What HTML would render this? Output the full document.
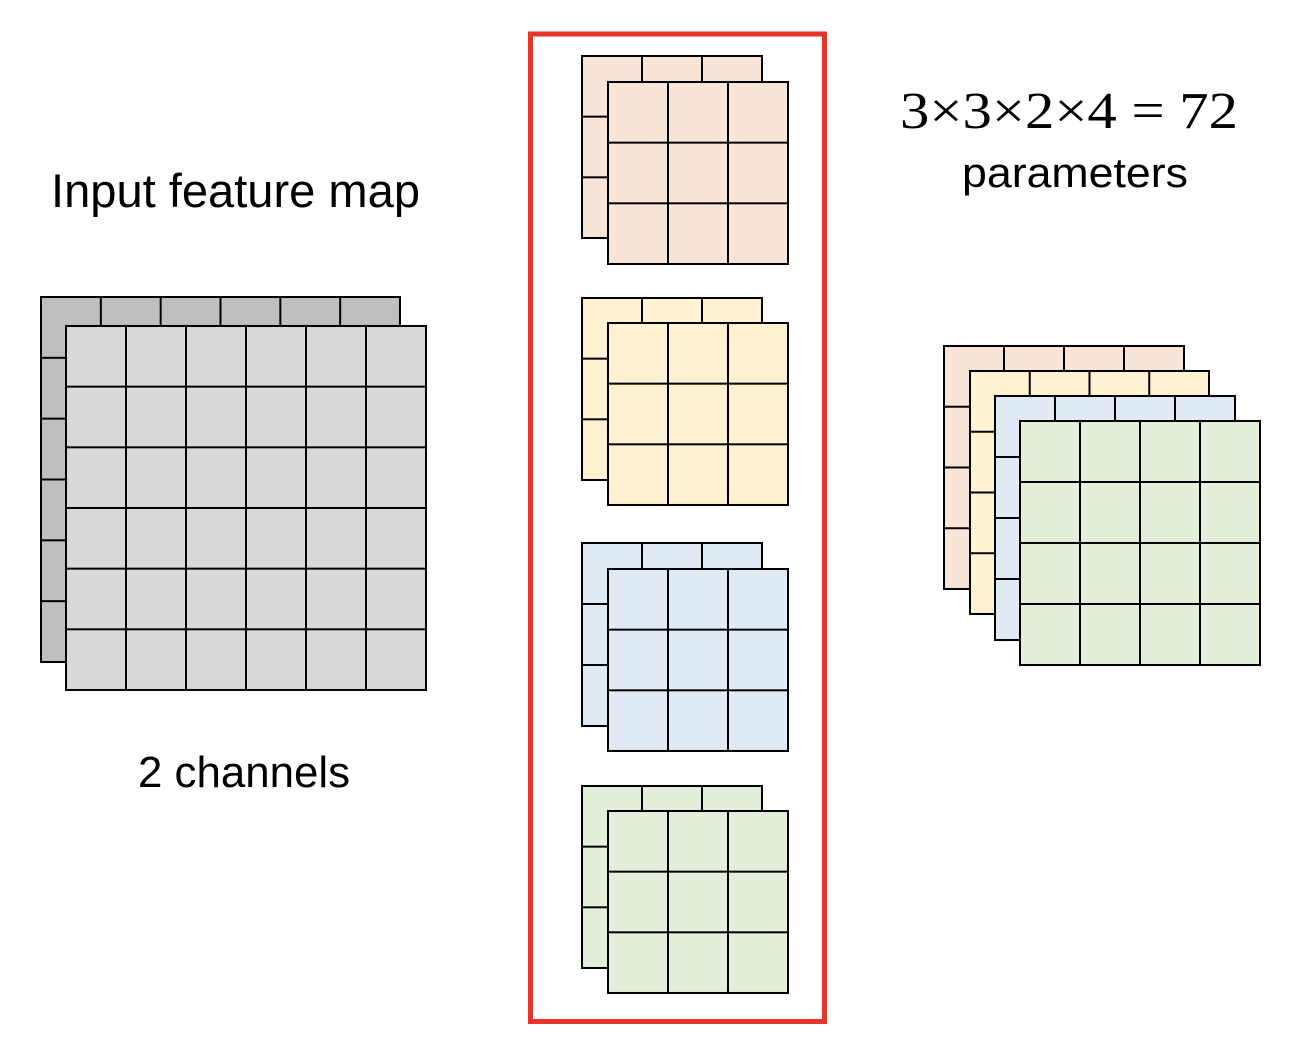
<!DOCTYPE html>
<html>
<head>
<meta charset="utf-8">
<style>
html,body{margin:0;padding:0;background:#fff;}
svg{display:block;}
</style>
</head>
<body>
<svg width="1304" height="1044" viewBox="0 0 1304 1044" xmlns="http://www.w3.org/2000/svg">
<defs>
<pattern id="g" patternUnits="userSpaceOnUse" x="-1" y="-1" width="60" height="60">
<path d="M1 0V60M0 1H60" stroke="#000" stroke-width="2" fill="none"/>
</pattern>
</defs>

<!-- Input feature map: back -->
<g transform="translate(41,297) scale(0.9972,1.0139)">
<rect width="360" height="360" fill="#BFBFBF"/>
<rect width="360" height="360" fill="url(#g)"/>
<rect width="360" height="360" fill="none" stroke="#000" stroke-width="2"/>
</g>
<!-- front -->
<g transform="translate(66,326) scale(1,1.0111)">
<rect width="360" height="360" fill="#D9D9D9"/>
<rect width="360" height="360" fill="url(#g)"/>
<rect width="360" height="360" fill="none" stroke="#000" stroke-width="2"/>
</g>

<!-- Kernels -->
<g transform="translate(582,56) scale(1,1.0111)">
<rect width="180" height="180" fill="#F8E5D8"/><rect width="180" height="180" fill="url(#g)"/><rect width="180" height="180" fill="none" stroke="#000" stroke-width="2"/>
</g>
<g transform="translate(608,82) scale(1,1.0111)">
<rect width="180" height="180" fill="#F8E5D8"/><rect width="180" height="180" fill="url(#g)"/><rect width="180" height="180" fill="none" stroke="#000" stroke-width="2"/>
</g>

<g transform="translate(582,298) scale(1,1.0111)">
<rect width="180" height="180" fill="#FEF2D0"/><rect width="180" height="180" fill="url(#g)"/><rect width="180" height="180" fill="none" stroke="#000" stroke-width="2"/>
</g>
<g transform="translate(608,323) scale(1,1.0111)">
<rect width="180" height="180" fill="#FEF2D0"/><rect width="180" height="180" fill="url(#g)"/><rect width="180" height="180" fill="none" stroke="#000" stroke-width="2"/>
</g>

<g transform="translate(582,543) scale(1,1.0167)">
<rect width="180" height="180" fill="#E0EAF5"/><rect width="180" height="180" fill="url(#g)"/><rect width="180" height="180" fill="none" stroke="#000" stroke-width="2"/>
</g>
<g transform="translate(608,569) scale(1,1.0111)">
<rect width="180" height="180" fill="#E0EAF5"/><rect width="180" height="180" fill="url(#g)"/><rect width="180" height="180" fill="none" stroke="#000" stroke-width="2"/>
</g>

<g transform="translate(582,786) scale(1,1.0111)">
<rect width="180" height="180" fill="#E3EFDA"/><rect width="180" height="180" fill="url(#g)"/><rect width="180" height="180" fill="none" stroke="#000" stroke-width="2"/>
</g>
<g transform="translate(608,811) scale(1,1.0111)">
<rect width="180" height="180" fill="#E3EFDA"/><rect width="180" height="180" fill="url(#g)"/><rect width="180" height="180" fill="none" stroke="#000" stroke-width="2"/>
</g>

<!-- Red box -->
<rect x="530.5" y="34" width="294" height="987.5" fill="none" stroke="#E8352A" stroke-width="5"/>

<!-- Output stack -->
<g transform="translate(944,346) scale(1,1.0125)">
<rect width="240" height="240" fill="#F8E5D8"/><rect width="240" height="240" fill="url(#g)"/><rect width="240" height="240" fill="none" stroke="#000" stroke-width="2"/>
</g>
<g transform="translate(970,371) scale(0.9958,1.0125)">
<rect width="240" height="240" fill="#FEF2D0"/><rect width="240" height="240" fill="url(#g)"/><rect width="240" height="240" fill="none" stroke="#000" stroke-width="2"/>
</g>
<g transform="translate(995,396) scale(1,1.0167)">
<rect width="240" height="240" fill="#E0EAF5"/><rect width="240" height="240" fill="url(#g)"/><rect width="240" height="240" fill="none" stroke="#000" stroke-width="2"/>
</g>
<g transform="translate(1020,421) scale(1,1.0167)">
<rect width="240" height="240" fill="#E3EFDA"/><rect width="240" height="240" fill="url(#g)"/><rect width="240" height="240" fill="none" stroke="#000" stroke-width="2"/>
</g>

<!-- Text -->
<text x="51" y="207" font-family="Liberation Sans, sans-serif" font-size="47" textLength="369" lengthAdjust="spacingAndGlyphs" fill="#000">Input feature map</text>
<text x="138" y="787" font-family="Liberation Sans, sans-serif" font-size="44" textLength="212" lengthAdjust="spacingAndGlyphs" fill="#000">2 channels</text>
<text x="900" y="128" font-family="Liberation Serif, serif" font-size="52" textLength="338" lengthAdjust="spacingAndGlyphs" fill="#000">3×3×2×4 = 72</text>
<text x="962" y="187" font-family="Liberation Sans, sans-serif" font-size="42" textLength="226" lengthAdjust="spacingAndGlyphs" fill="#000">parameters</text>
</svg>
</body>
</html>
